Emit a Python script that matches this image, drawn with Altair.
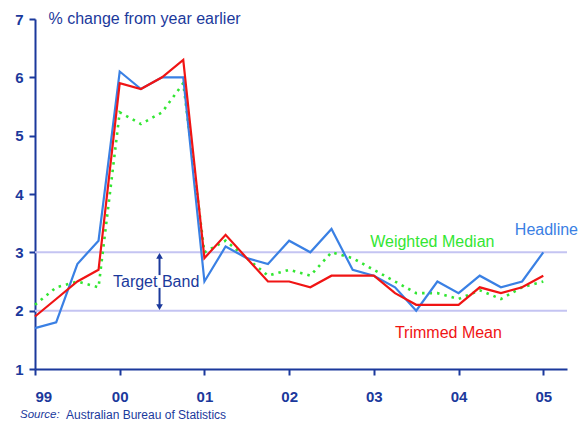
import altair as alt
import pandas as pd

# Quarterly observations, 1999 through 2005 (annual % change)
quarters = [1999 + 0.25 * i for i in range(25)]
headline = [1.7, 1.8, 2.8, 3.2, 6.1, 5.8, 6.0, 6.0, 2.5, 3.1, 2.9, 2.8, 3.2,
            3.0, 3.4, 2.7, 2.6, 2.4, 2.0, 2.5, 2.3, 2.6, 2.4, 2.5, 3.0]
trimmed_mean = [1.9, 2.2, 2.5, 2.7, 5.9, 5.8, 6.0, 6.3, 2.9, 3.3, 2.9, 2.5, 2.5,
                2.4, 2.6, 2.6, 2.6, 2.3, 2.1, 2.1, 2.1, 2.4, 2.3, 2.4, 2.6]
weighted_median = [2.1, 2.4, 2.5, 2.4, 5.4, 5.2, 5.4, 5.9, 3.0, 3.2, 2.9, 2.6, 2.7,
                   2.6, 3.0, 2.9, 2.7, 2.5, 2.3, 2.3, 2.2, 2.35, 2.2, 2.4, 2.5]
target_band = [2, 3]
year_ticks = [1999, 2000, 2001, 2002, 2003, 2004, 2005]
y_ticks = [1, 2, 3, 4, 5, 6, 7]

AXIS_BLUE = "#1b399c"
BLUE = "#3a80e4"
RED = "#f01414"
GREEN = "#33e633"
BAND = "#c4c4f2"
FONT = "Liberation Sans"

x_scale = alt.Scale(domain=[1999, 2005.28], nice=False, zero=False)
y_scale = alt.Scale(domain=[1, 7], nice=False, zero=False)

x_axis = alt.Axis(
    values=year_ticks, title=None, grid=False,
    labelExpr="(datum.value % 100) < 10 ? '0' + (datum.value % 100) : '' + (datum.value % 100)",
    labelFont=FONT, labelFontSize=15, labelFontWeight="bold", labelColor=AXIS_BLUE,
    labelPadding=14, domainColor=AXIS_BLUE, domainWidth=2,
    tickColor=AXIS_BLUE, tickWidth=2, tickSize=6,
)
y_axis = alt.Axis(
    values=y_ticks, title=None, grid=False, format="d",
    labelFont=FONT, labelFontSize=15, labelFontWeight="bold", labelColor=AXIS_BLUE,
    labelPadding=6, domainColor=AXIS_BLUE, domainWidth=2,
    tickColor=AXIS_BLUE, tickWidth=2, tickSize=6,
)


def series_frame(values):
    return pd.DataFrame({"quarter": quarters, "value": values})


band = alt.Chart(pd.DataFrame({"value": target_band})).mark_rule(
    color=BAND, strokeWidth=2
).encode(y=alt.Y("value:Q", scale=y_scale, axis=y_axis))


def line_layer(values, color, dash=None, width=2.2):
    kwargs = dict(color=color, strokeWidth=width)
    if dash:
        kwargs["strokeDash"] = dash
        kwargs["strokeCap"] = "butt"
    return alt.Chart(series_frame(values)).mark_line(**kwargs).encode(
        x=alt.X("quarter:Q", scale=x_scale, axis=x_axis),
        y=alt.Y("value:Q", scale=y_scale, axis=y_axis),
    )


green_line = line_layer(weighted_median, GREEN, dash=[2.5, 5], width=2.6)
blue_line = line_layer(headline, BLUE)
red_line = line_layer(trimmed_mean, RED)


def label(text, x, y, color, align="center", size=16):
    return alt.Chart(pd.DataFrame({"quarter": [x], "value": [y], "t": [text]})).mark_text(
        font=FONT, fontSize=size, color=color, align=align, baseline="middle"
    ).encode(
        x=alt.X("quarter:Q", scale=x_scale),
        y=alt.Y("value:Q", scale=y_scale),
        text="t:N",
    )


unit_note = label("% change from year earlier", 1999.16, 7.0, AXIS_BLUE, align="left")
wm_label = label("Weighted Median", 2003.69, 3.18, GREEN)
hl_label = label("Headline", 2005.41, 3.38, BLUE, align="right")
tm_label = label("Trimmed Mean", 2003.88, 1.62, RED)
tb_label = label("Target Band", 2000.43, 2.5, AXIS_BLUE)

# Arrows marking the 2-3 per cent target band
arrow_x = 2000.47
shafts = alt.Chart(pd.DataFrame({
    "quarter": [arrow_x, arrow_x], "lo": [2.61, 2.07], "hi": [2.93, 2.39]
})).mark_rule(color=AXIS_BLUE, strokeWidth=2).encode(
    x=alt.X("quarter:Q", scale=x_scale),
    y=alt.Y("lo:Q", scale=y_scale),
    y2="hi:Q",
)
heads = alt.Chart(pd.DataFrame({
    "quarter": [arrow_x, arrow_x], "value": [2.94, 2.06],
    "shape": ["triangle-up", "triangle-down"]
})).mark_point(filled=True, color=AXIS_BLUE, opacity=1, size=45).encode(
    x=alt.X("quarter:Q", scale=x_scale),
    y=alt.Y("value:Q", scale=y_scale),
    shape=alt.Shape("shape:N", scale=None),
)

source_a = alt.Chart(pd.DataFrame({"t": ["Source:"]})).mark_text(
    font=FONT, fontSize=11.5, fontStyle="italic", color=AXIS_BLUE, align="left", baseline="middle"
).encode(x=alt.value(-15), y=alt.value(396), text="t:N")
source_b = alt.Chart(pd.DataFrame({"t": ["Australian Bureau of Statistics"]})).mark_text(
    font=FONT, fontSize=12, color=AXIS_BLUE, align="left", baseline="middle"
).encode(x=alt.value(31), y=alt.value(396), text="t:N")

chart = alt.layer(
    band, green_line, blue_line, red_line,
    unit_note, wm_label, hl_label, tm_label, tb_label,
    shafts, heads, source_a, source_b,
).properties(
    width=532, height=350,
    autosize=alt.AutoSizeParams(type="none"),
    padding={"left": 35, "top": 19, "right": 11, "bottom": 54},
    background="white",
).configure_view(stroke=None)

chart.save("out.html", embed_options={"renderer": "svg", "actions": False})
